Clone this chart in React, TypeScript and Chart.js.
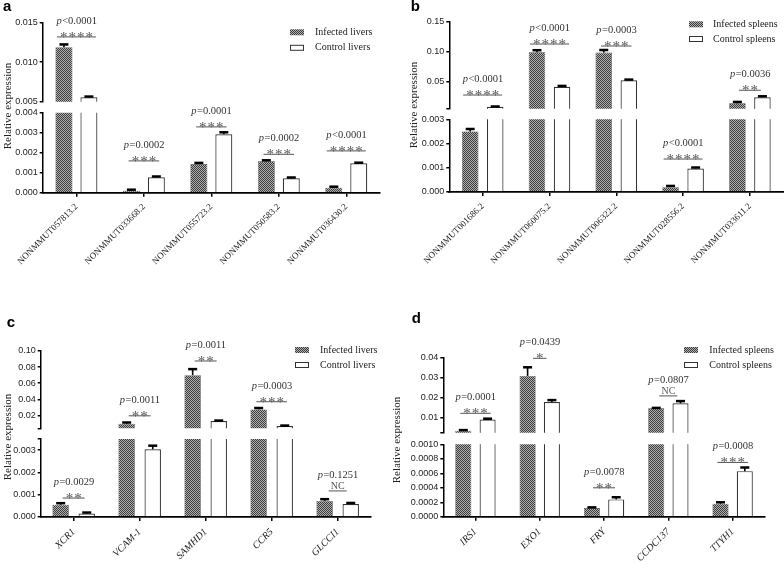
import React, { useEffect, useRef } from 'react';
import { Chart, registerables } from 'chart.js';
Chart.register(...registerables);

const SERIF = '"Liberation Serif", "Times New Roman", serif';
const SANS = '"Liberation Sans", Arial, sans-serif';

// ---------------- Panel a ----------------
const catsA = ['NONMMUT057813.2', 'NONMMUT033668.2', 'NONMMUT055723.2', 'NONMMUT050583.2', 'NONMMUT036430.2'];
const infA = [0.0119, 0.0001, 0.00143, 0.00157, 0.00025];
const infErrA = [0.01225, 0.00015, 0.00149, 0.00162, 0.0003];
const ctlA = [0.00555, 0.00077, 0.00292, 0.00072, 0.00147];
const ctlErrA = [0.00565, 0.00081, 0.00302, 0.00076, 0.0015];
const pA = ['<0.0001', '=0.0002', '=0.0001', '=0.0002', '<0.0001'];
const marksA = ['****', '***', '***', '***', '****'];
const sigA = [0.0132, 0.00159, 0.00329, 0.00192, 0.00209];
const legendA = ['Infected livers', 'Control livers'];
const topTicksA = [0.005, 0.01, 0.015];
const topLabelsA = ['0.005', '0.010', '0.015'];
const botTicksA = [0, 0.001, 0.002, 0.003, 0.004];
const botLabelsA = ['0.000', '0.001', '0.002', '0.003', '0.004'];

// ---------------- Panel b ----------------
const catsB = ['NONMMUT001686.2', 'NONMMUT060075.2', 'NONMMUT006322.2', 'NONMMUT028556.2', 'NONMMUT033611.2'];
const infB = [0.0025, 0.0995, 0.099, 0.0002, 0.0145];
const infErrB = [0.0026, 0.103, 0.1033, 0.00025, 0.0168];
const ctlB = [0.0088, 0.0422, 0.0528, 0.00097, 0.0245];
const ctlErrB = [0.0092, 0.0435, 0.054, 0.00101, 0.0262];
const pB = ['<0.0001', '<0.0001', '=0.0003', '<0.0001', '=0.0036'];
const marksB = ['****', '****', '***', '****', '**'];
const sigB = [0.0283, 0.1133, 0.11, 0.00136, 0.0362];
const legendB = ['Infected spleens', 'Control spleens'];
const topTicksB = [0.0055, 0.05, 0.1, 0.15];
const topLabelsB = ['', '0.05', '0.10', '0.15'];
const botTicksB = [0, 0.001, 0.002, 0.003];
const botLabelsB = ['0.000', '0.001', '0.002', '0.003'];

// ---------------- Panel c ----------------
const catsC = ['XCR1', 'VCAM-1', 'SAMHD1', 'CCR5', 'GLCCI1'];
const infC = [0.00055, 0.0095, 0.07, 0.0275, 0.00072];
const infErrC = [0.00062, 0.0112, 0.0775, 0.0292, 0.0008];
const ctlC = [0.00016, 0.00304, 0.013, 0.0068, 0.00058];
const ctlErrC = [0.0002, 0.0032, 0.0136, 0.0074, 0.00063];
const pC = ['=0.0029', '=0.0011', '=0.0011', '=0.0003', '=0.1251'];
const marksC = ['**', '**', '**', '***', 'NC'];
const sigC = [0.00085, 0.0195, 0.0876, 0.037, 0.00117];
const legendC = ['Infected livers', 'Control livers'];
const topTicksC = [0.004, 0.02, 0.04, 0.06, 0.08, 0.1];
const topLabelsC = ['', '0.02', '0.04', '0.06', '0.08', '0.10'];
const botTicksC = [0, 0.001, 0.002, 0.003, 0.0035];
const botLabelsC = ['0.000', '0.001', '0.002', '0.003', ''];

// ---------------- Panel d ----------------
const catsD = ['IRS1', 'EXO1', 'FRY', 'CCDC137', 'TTYH1'];
const infD = [0.0035, 0.0309, 0.00012, 0.0147, 0.00018];
const infErrD = [0.0038, 0.0352, 0.00013, 0.0149, 0.0002];
const ctlD = [0.0091, 0.0178, 0.00024, 0.0172, 0.00063];
const ctlErrD = [0.0095, 0.0188, 0.00027, 0.0183, 0.00068];
const pD = ['=0.0001', '=0.0439', '=0.0078', '=0.0807', '=0.0008'];
const marksD = ['***', '*', '**', 'NC', '***'];
const sigD = [0.0122, 0.0397, 0.0004, 0.0209, 0.00075];
const legendD = ['Infected spleens', 'Control spleens'];
const topTicksD = [0.0025, 0.01, 0.02, 0.03, 0.04];
const topLabelsD = ['', '0.01', '0.02', '0.03', '0.04'];
const botTicksD = [0, 0.0002, 0.0004, 0.0006, 0.0008, 0.001];
const botLabelsD = ['0.0000', '0.0002', '0.0004', '0.0006', '0.0008', '0.0010'];

type Panel = {
  letter: string;
  cats: string[];
  inf: number[]; infErr: number[]; ctl: number[]; ctlErr: number[];
  pvals: string[]; marks: string[]; sig: number[]; legend: string[];
  topMin: number; topMax: number; botMax: number;
  topTicks: number[]; topLabels: string[]; botTicks: number[]; botLabels: string[];
  italic: boolean;
  box: { left: number; top: number; width: number; height: number };
  area: { left: number; right: number; top: number; bottom: number };
  brk: [number, number];
  catPct: number; barPct: number;
  legendPos: { x: number; y: number; dy: number; tx: number };
  titlePos: { x: number; y: number };
  letterPos: { x: number; y: number };
};

const panels: Panel[] = [
  {
    letter: 'a', cats: catsA, inf: infA, infErr: infErrA, ctl: ctlA, ctlErr: ctlErrA,
    pvals: pA, marks: marksA, sig: sigA, legend: legendA,
    topMin: 0.005, topMax: 0.015, botMax: 0.004,
    topTicks: topTicksA, topLabels: topLabelsA, botTicks: botTicksA, botLabels: botLabelsA,
    italic: false,
    box: { left: 0, top: 0, width: 392, height: 282 },
    area: { left: 42.7, right: 380, top: 22.7, bottom: 192.7 },
    brk: [101.7, 112.7], catPct: 0.74, barPct: 0.68,
    legendPos: { x: 290, y: 32.3, dy: 15.5, tx: 315 },
    titlePos: { x: 8, y: 106 }, letterPos: { x: 3, y: 11 },
  },
  {
    letter: 'b', cats: catsB, inf: infB, infErr: infErrB, ctl: ctlB, ctlErr: ctlErrB,
    pvals: pB, marks: marksB, sig: sigB, legend: legendB,
    topMin: 0.0055, topMax: 0.15, botMax: 0.003,
    topTicks: topTicksB, topLabels: topLabelsB, botTicks: botTicksB, botLabels: botLabelsB,
    italic: false,
    box: { left: 392, top: 0, width: 392, height: 282 },
    area: { left: 57.3, right: 391.3, top: 22, bottom: 192 },
    brk: [108.7, 119.3], catPct: 0.75, barPct: 0.66,
    legendPos: { x: 297, y: 24.3, dy: 14.7, tx: 321 },
    titlePos: { x: 22, y: 105 }, letterPos: { x: 18.7, y: 11.3 },
  },
  {
    letter: 'c', cats: catsC, inf: infC, infErr: infErrC, ctl: ctlC, ctlErr: ctlErrC,
    pvals: pC, marks: marksC, sig: sigC, legend: legendC,
    topMin: 0.004, topMax: 0.1, botMax: 0.0035,
    topTicks: topTicksC, topLabels: topLabelsC, botTicks: botTicksC, botLabels: botLabelsC,
    italic: true,
    box: { left: 0, top: 282, width: 392, height: 283 },
    area: { left: 40.7, right: 370.7, top: 69, bottom: 235 },
    brk: [146.3, 157], catPct: 0.79, barPct: 0.63,
    legendPos: { x: 295, y: 68, dy: 15, tx: 320 },
    titlePos: { x: 8, y: 155 }, letterPos: { x: 6.7, y: 45.3 },
  },
  {
    letter: 'd', cats: catsD, inf: infD, infErr: infErrD, ctl: ctlD, ctlErr: ctlErrD,
    pvals: pD, marks: marksD, sig: sigD, legend: legendD,
    topMin: 0.0025, topMax: 0.04, botMax: 0.001,
    topTicks: topTicksD, topLabels: topLabelsD, botTicks: botTicksD, botLabels: botLabelsD,
    italic: true,
    box: { left: 392, top: 282, width: 392, height: 283 },
    area: { left: 51.3, right: 372.8, top: 75.7, bottom: 234.8 },
    brk: [150.7, 162.3], catPct: 0.756, barPct: 0.66,
    legendPos: { x: 292, y: 68, dy: 15, tx: 317.3 },
    titlePos: { x: 5, y: 158 }, letterPos: { x: 19.7, y: 41.3 },
  },
];

function makePattern(ctx: CanvasRenderingContext2D) {
  const t = document.createElement('canvas');
  t.width = 2; t.height = 2;
  const c = t.getContext('2d')!;
  c.fillStyle = '#b0b0b0'; c.fillRect(0, 0, 2, 2);
  c.fillStyle = '#3c3c3c'; c.fillRect(0, 0, 1, 1); c.fillRect(1, 1, 1, 1);
  return ctx.createPattern(t, 'repeat')!;
}

function drawSig(ctx: CanvasRenderingContext2D, cx: number, y: number, pTxt: string, mark: string) {
  const nc = mark === 'NC';
  const n = nc ? 0 : mark.length;
  const w = nc ? 18 : n * 8.5 + 5;
  ctx.save();
  ctx.strokeStyle = '#555'; ctx.lineWidth = 1;
  ctx.beginPath(); ctx.moveTo(cx - w / 2, y); ctx.lineTo(cx + w / 2, y); ctx.stroke();
  ctx.fillStyle = '#555';
  ctx.textBaseline = 'alphabetic';
  ctx.textAlign = 'center';
  if (nc) {
    ctx.font = `10px ${SERIF}`;
    ctx.fillText('NC', cx, y - 2);
  } else {
    ctx.font = `15px ${SERIF}`;
    for (let k = 0; k < n; k++) ctx.fillText('*', cx + (k - (n - 1) / 2) * 8.5, y + 5);
  }
  ctx.fillStyle = '#333';
  ctx.textAlign = 'left';
  ctx.font = `italic 10.5px ${SERIF}`;
  const w1 = ctx.measureText('p').width;
  ctx.font = `10.5px ${SERIF}`;
  const w2 = ctx.measureText(pTxt).width;
  const x0 = cx - (w1 + w2) / 2;
  ctx.font = `italic 10.5px ${SERIF}`;
  ctx.fillText('p', x0, y - 13);
  ctx.font = `10.5px ${SERIF}`;
  ctx.fillText(pTxt, x0 + w1 + 0.5, y - 13);
  ctx.restore();
}

function makePlugin(p: Panel, pattern: CanvasPattern) {
  return {
    id: 'panelDeco',
    beforeDatasetDraw(chart: any, args: any) {
      const ys = args.meta.yScale;
      const a = chart.chartArea;
      const ctx = chart.ctx;
      ctx.save();
      ctx.beginPath();
      ctx.rect(a.left, ys.top, a.right - a.left, ys.bottom - ys.top);
      ctx.clip();
    },
    afterDatasetDraw(chart: any) {
      chart.ctx.restore();
    },
    afterDatasetsDraw(chart: any) {
      const ctx = chart.ctx as CanvasRenderingContext2D;
      const yTop = chart.scales.yTop;
      const yBot = chart.scales.yBot;
      const xs = chart.scales.x;
      const pix = (v: number) => (v > p.botMax ? yTop.getPixelForValue(v) : yBot.getPixelForValue(v));
      const series = [
        { vals: p.inf, errs: p.infErr, meta: chart.getDatasetMeta(1) },
        { vals: p.ctl, errs: p.ctlErr, meta: chart.getDatasetMeta(3) },
      ];
      ctx.save();
      ctx.strokeStyle = '#000';
      for (const s of series) {
        s.vals.forEach((v, i) => {
          const el = s.meta.data[i];
          const x = el.x;
          const y0 = pix(v);
          const y1 = pix(s.errs[i]);
          ctx.lineWidth = 1.6;
          ctx.beginPath(); ctx.moveTo(x, y0); ctx.lineTo(x, y1); ctx.stroke();
          ctx.lineWidth = 2.5;
          ctx.beginPath(); ctx.moveTo(x - 4.5, y1); ctx.lineTo(x + 4.5, y1); ctx.stroke();
        });
      }
      ctx.restore();
      p.sig.forEach((sv, i) => {
        drawSig(ctx, xs.getPixelForValue(i), pix(sv), p.pvals[i], p.marks[i]);
      });
    },
    afterDraw(chart: any) {
      const ctx = chart.ctx as CanvasRenderingContext2D;
      ctx.save();
      // legend
      const L = p.legendPos;
      ctx.fillStyle = pattern;
      ctx.fillRect(L.x, L.y - 3, 14, 6);
      ctx.fillStyle = '#fff';
      ctx.fillRect(L.x, L.y + L.dy - 3, 14, 6);
      ctx.strokeStyle = '#333'; ctx.lineWidth = 1;
      ctx.strokeRect(L.x + 0.5, L.y + L.dy - 2.5, 13, 5);
      ctx.fillStyle = '#222';
      ctx.font = `10px ${SERIF}`;
      ctx.textBaseline = 'middle';
      ctx.textAlign = 'left';
      ctx.fillText(p.legend[0], L.tx, L.y);
      ctx.fillText(p.legend[1], L.tx, L.y + L.dy);
      // axis title
      ctx.save();
      ctx.translate(p.titlePos.x, p.titlePos.y);
      ctx.rotate(-Math.PI / 2);
      ctx.textAlign = 'center';
      ctx.textBaseline = 'middle';
      ctx.font = `11px ${SERIF}`;
      ctx.fillStyle = '#222';
      ctx.fillText('Relative expression', 0, 0);
      ctx.restore();
      // panel letter
      ctx.font = `bold 15px ${SANS}`;
      ctx.fillStyle = '#000';
      ctx.textBaseline = 'alphabetic';
      ctx.fillText(p.letter, p.letterPos.x, p.letterPos.y);
      ctx.restore();
    },
  };
}

function buildConfig(p: Panel, pattern: CanvasPattern): any {
  const { area, box, brk } = p;
  const wTop = brk[0] - area.top;
  const wGap = brk[1] - brk[0];
  const wBot = area.bottom - brk[1];
  const topOnly = (arr: number[]) => arr.map((v) => (v > p.topMin ? v : null));
  const infStyle = {
    backgroundColor: pattern, borderColor: '#444', borderWidth: 0.6,
    categoryPercentage: p.catPct, barPercentage: p.barPct, clip: false,
  };
  const ctlStyle = {
    backgroundColor: '#ffffff', borderColor: '#333', borderWidth: 1.2,
    categoryPercentage: p.catPct, barPercentage: p.barPct, clip: false,
  };
  const yAxis = (ticks: number[], labels: string[], min: number, max: number, weight: number, sw: number) => ({
    type: 'linear', position: 'left', stack: 'v', stackWeight: sw, weight, min, max, stacked: false,
    afterBuildTicks: (s: any) => { s.ticks = ticks.map((v) => ({ value: v })); },
    afterFit: (s: any) => { s.width = area.left; s.paddingTop = 0; s.paddingBottom = 0; },
    ticks: {
      autoSkip: false, padding: 2, color: '#222',
      font: { family: SANS, size: 9 },
      callback: (_v: any, i: number) => labels[i],
    },
    grid: { display: true, drawOnChartArea: false, drawTicks: true, tickLength: 3, color: '#000', lineWidth: 1.5 },
    border: { display: true, color: '#000', width: 1.5 },
    z: 1,
  });
  return {
    type: 'bar',
    data: {
      labels: p.cats,
      datasets: [
        { label: p.legend[0], data: topOnly(p.inf), yAxisID: 'yTop', stack: 'inf', ...infStyle },
        { label: p.legend[0], data: p.inf, yAxisID: 'yBot', stack: 'inf', ...infStyle },
        { label: p.legend[1], data: topOnly(p.ctl), yAxisID: 'yTop', stack: 'ctl', ...ctlStyle },
        { label: p.legend[1], data: p.ctl, yAxisID: 'yBot', stack: 'ctl', ...ctlStyle },
      ],
    },
    options: {
      responsive: false,
      animation: false,
      devicePixelRatio: 1,
      layout: { padding: { left: 0, top: area.top, right: box.width - area.right, bottom: 0 } },
      plugins: { legend: { display: false }, tooltip: { enabled: false }, title: { display: false } },
      scales: {
        x: {
          type: 'category', offset: true,
          grid: { display: true, drawOnChartArea: false, drawTicks: true, tickLength: 4, offset: false, color: '#000', lineWidth: 1.5 },
          border: { display: true, color: '#000', width: 1.8 },
          ticks: {
            autoSkip: false, maxRotation: 45, minRotation: 45, padding: 5, color: '#222',
            font: { family: SERIF, size: p.italic ? 10 : 9, style: p.italic ? 'italic' : 'normal' },
          },
          afterFit: (s: any) => { s.height = box.height - area.bottom; s.paddingLeft = 0; s.paddingRight = 0; },
          z: 1,
        },
        yTop: yAxis(p.topTicks, p.topLabels, p.topMin, p.topMax, 2, wTop),
        yGap: { type: 'linear', position: 'left', stack: 'v', stackWeight: wGap, weight: 1, display: false, min: 0, max: 1 },
        yBot: yAxis(p.botTicks, p.botLabels, 0, p.botMax, 0, wBot),
      },
    },
    plugins: [makePlugin(p, pattern)],
  };
}

function PanelChart({ p }: { p: Panel }) {
  const ref = useRef<HTMLCanvasElement>(null);
  useEffect(() => {
    const canvas = ref.current!;
    const ctx = canvas.getContext('2d')!;
    const pattern = makePattern(ctx);
    const chart = new Chart(canvas, buildConfig(p, pattern));
    return () => chart.destroy();
  }, [p]);
  return (
    <div style={{ position: 'absolute', left: p.box.left, top: p.box.top, width: p.box.width, height: p.box.height }}>
      <canvas ref={ref} width={p.box.width} height={p.box.height} style={{ display: 'block' }} />
    </div>
  );
}

export default function App() {
  return (
    <div style={{ position: 'absolute', left: 0, top: 0, width: 784, height: 565, background: '#fff', overflow: 'hidden' }}>
      {panels.map((p) => (
        <PanelChart key={p.letter} p={p} />
      ))}
    </div>
  );
}
